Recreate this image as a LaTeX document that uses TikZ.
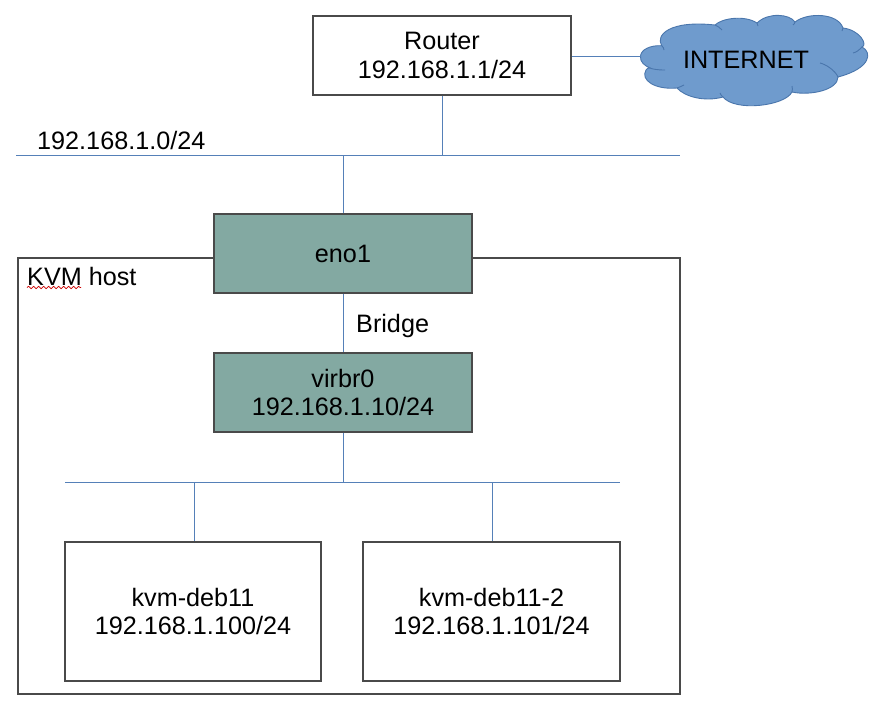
\documentclass[tikz,border=0pt]{standalone}
\usepackage{fontspec}
\setmainfont{Liberation Sans}
\usetikzlibrary{decorations.pathmorphing}
\definecolor{boxedge}{HTML}{4A4A4A}
\definecolor{wire}{HTML}{5580B8}
\definecolor{teal}{HTML}{83A9A2}
\definecolor{cloudfill}{HTML}{6F9BCD}
\definecolor{cloudedge}{HTML}{4A76AC}
\tikzset{
  x=1pt,y=-1pt,
  box/.style={draw=boxedge,line width=1.1pt,fill=white,align=center,inner sep=0pt,
    font=\fontsize{25.2}{28.5}\selectfont},
  tealbox/.style={box,fill=teal},
  label/.style={inner sep=0pt,anchor=base west,font=\fontsize{25.2}{28}\selectfont},
  wireline/.style={draw=wire,line width=1pt},
  cloudline/.style={draw=cloudedge,line width=0.9pt}
}
\begin{document}
\begin{tikzpicture}
\useasboundingbox (0,0) rectangle (881,710);
% host frame
\node[box,minimum width=662pt,minimum height=436pt] (host) at (349,476) {};
% bus end points
\coordinate (busAl) at (16,155);
\coordinate (busAr) at (680,155);
\coordinate (busBl) at (65,482);
\coordinate (busBr) at (620,482);
\draw[wireline] (busAl) -- (busAr);
\draw[wireline] (busBl) -- (busBr);
% nodes
\node[box,minimum width=258pt,minimum height=79pt] (router) at (442,55.5) {Router\\192.168.1.1/24};
\node[tealbox,minimum width=258pt,minimum height=79pt] (eno) at (343,253.5) {eno1};
\node[tealbox,minimum width=258pt,minimum height=79pt] (virbr) at (343,392.5) {virbr0\\192.168.1.10/24};
\node[box,minimum width=256pt,minimum height=139pt] (deba) at (193,611.5) {kvm-deb11\\192.168.1.100/24};
\node[box,minimum width=257pt,minimum height=139pt] (debb) at (491.5,611.5) {kvm-deb11-2\\192.168.1.101/24};
% cloud
\coordinate (cloudport) at (640.5,56);
\draw[cloudline,fill=cloudfill]
  (640.5,57) .. controls (640,50) and (650,45) .. (661.7,45.7)
  .. controls (655,35) and (670,20) .. (715,25)
  .. controls (722,18) and (745,15) .. (757,23)
  .. controls (768,12) and (790,14) .. (795,22)
  .. controls (808,12) and (838,13) .. (843,28)
  .. controls (860,30) and (868,45) .. (862,47)
  .. controls (872,52) and (872,68) .. (838,77)
  .. controls (838,90) and (810,96) .. (792,92)
  .. controls (785,106) and (735,112) .. (723,97)
  .. controls (705,102) and (685,97) .. (677,88)
  .. controls (655,90) and (640,80) .. (646,70)
  .. controls (647,68) and (648,68) .. (650,68)
  .. controls (645,66) and (640,62) .. (640.5,57) -- cycle;
\draw[cloudline] (665,70) .. controls (657,70) and (652,69) .. (650,68);
\draw[cloudline] (661.7,45.7) .. controls (663,47) and (664,48) .. (664,50);
\draw[cloudline] (715,25) .. controls (718,26) and (720,28) .. (722,30);
\draw[cloudline] (757,23) .. controls (758,24) and (758,25) .. (758,26);
\draw[cloudline] (795,22) .. controls (795,23) and (794,24) .. (793,25);
\draw[cloudline] (843,28) .. controls (843,29) and (843,30) .. (842,31);
\draw[cloudline] (862,47) .. controls (859,50) and (857,52) .. (853,53);
\draw[cloudline] (838,77) .. controls (835,70) and (825,64) .. (820,63);
\draw[cloudline] (792,92) .. controls (793,90) and (792,88) .. (792,86);
\draw[cloudline] (723,97) .. controls (722,96) and (720,94) .. (720,93);
\draw[cloudline] (677,88) .. controls (680,87) and (682,86) .. (684,85);
\node[inner sep=0pt,font=\fontsize{25.2}{28}\selectfont] (cloudtext) at (746,59.5) {INTERNET};
% connectors
\draw[wireline] (router.east |- cloudport) -- (cloudport);
\draw[wireline] (router.south) -- (router.south |- busAl);
\draw[wireline] (eno.north) -- (eno.north |- busAl);
\draw[wireline] (eno.south) -- (virbr.north);
\draw[wireline] (virbr.south) -- (virbr.south |- busBl);
\coordinate (tapA) at (194,482);
\coordinate (tapB) at (492,482);
\draw[wireline] (tapA) -- (tapA |- deba.north);
\draw[wireline] (tapB) -- (tapB |- debb.north);
% labels
\node[label] (netlabel) at (37,149.5) {192.168.1.0/24};
\node[label] (hostlabel) at (27,285) {KVM host};
\node[label] (bridgelabel) at (356,332) {Bridge};
\coordinate (spellA) at (27,287.5);
\coordinate (spellB) at (81,287.5);
\draw[red!80!black,line width=0.7pt,decorate,decoration={snake,amplitude=1.2pt,segment length=5pt}] (spellA) -- (spellB);
\end{tikzpicture}
\end{document}
